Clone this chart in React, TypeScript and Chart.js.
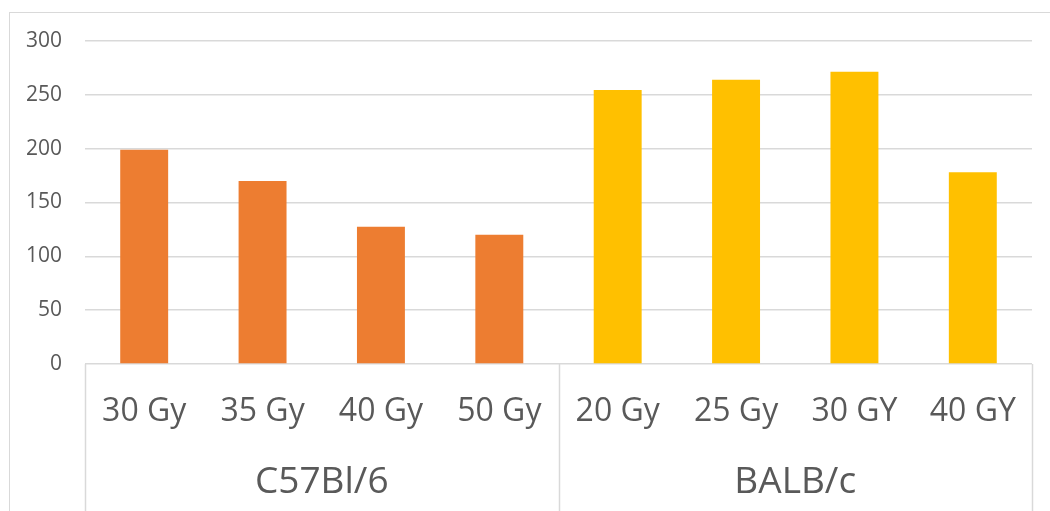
import React, { useEffect, useRef } from "react";
import { Chart, registerables } from "chart.js";

Chart.register(...registerables);

const categories = ["30 Gy", "35 Gy", "40 Gy", "50 Gy", "20 Gy", "25 Gy", "30 GY", "40 GY"];
const groupLabels = ["C57Bl/6", "BALB/c"];
const c57Values = [199, 170, 127.5, 120, null, null, null, null];
const balbValues = [null, null, null, null, 254.5, 264, 271.5, 178];
const yTicks = [0, 50, 100, 150, 200, 250, 300];

const GRID = "#d9d9d9";
const TEXT = "#595959";
const FONT = "'Open Sans', 'Noto Sans', sans-serif";

const separatorPlugin = {
  id: "groupSeparators",
  afterDraw(chart: any) {
    const x = chart.scales.x;
    const { ctx, chartArea } = chart;
    const bounds = [-0.5, 3.5, categories.length - 0.5];
    ctx.save();
    ctx.strokeStyle = GRID;
    ctx.lineWidth = 1.5;
    bounds.forEach((b) => {
      const px = Math.round(x.getPixelForValue(b)) + 0.5;
      ctx.beginPath();
      ctx.moveTo(px, chartArea.bottom);
      ctx.lineTo(px, chart.height);
      ctx.stroke();
    });
    ctx.restore();
  },
};

export default function App() {
  const ref = useRef<HTMLCanvasElement>(null);
  useEffect(() => {
    if (!ref.current) return;
    const chart = new Chart(ref.current, {
      type: "bar",
      data: {
        labels: categories,
        datasets: [
          {
            label: groupLabels[0],
            data: c57Values as any,
            backgroundColor: "#ED7D31",
            grouped: false,
          },
          {
            label: groupLabels[1],
            data: balbValues as any,
            backgroundColor: "#FFC000",
            grouped: false,
          },
        ],
      },
      options: {
        animation: false,
        responsive: false,
        maintainAspectRatio: false,
        layout: { padding: { top: 41, right: 18, bottom: 0, left: 0 } },
        plugins: { legend: { display: false }, tooltip: { enabled: false } },
        datasets: { bar: { categoryPercentage: 1, barPercentage: 0.405 } },
        scales: {
          y: {
            min: 0,
            max: 300,
            afterBuildTicks: (scale: any) => {
              scale.ticks = yTicks.map((v) => ({ value: v }));
            },
            afterFit: (scale: any) => {
              scale.width = 85;
            },
            border: { display: false },
            grid: { color: GRID, lineWidth: 1.5, drawTicks: false },
            ticks: {
              padding: 23,
              color: TEXT,
              font: { family: FONT, size: 21 },
            },
          },
          x: {
            type: "category",
            position: "bottom",
            weight: 0,
            offset: true,
            afterFit: (scale: any) => {
              scale.height = 80;
            },
            border: { display: false },
            grid: { display: false, drawTicks: false },
            ticks: {
              padding: 29,
              color: TEXT,
              maxRotation: 0,
              autoSkip: false,
              font: { family: FONT, size: 32 },
            },
          },
          x2: {
            type: "category",
            labels: groupLabels,
            position: "bottom",
            weight: 1,
            offset: true,
            afterFit: (scale: any) => {
              scale.height = 67;
            },
            border: { display: false },
            grid: { display: false, drawTicks: false },
            ticks: {
              padding: 16,
              color: TEXT,
              maxRotation: 0,
              font: { family: FONT, size: 37 },
            },
          },
        },
      },
      plugins: [separatorPlugin],
    });
    return () => chart.destroy();
  }, []);

  return (
    <div
      style={{
        position: "fixed",
        left: 0,
        top: 0,
        width: 1050,
        height: 511,
        overflow: "hidden",
        background: "#ffffff",
      }}
    >
      <div
        style={{
          position: "absolute",
          left: 9,
          top: 12,
          width: 1200,
          height: 700,
          border: `1px solid ${GRID}`,
          boxSizing: "border-box",
        }}
      />
      <canvas
        ref={ref}
        width={1050}
        height={511}
        style={{ position: "absolute", left: 0, top: 0, width: 1050, height: 511 }}
      />
    </div>
  );
}
